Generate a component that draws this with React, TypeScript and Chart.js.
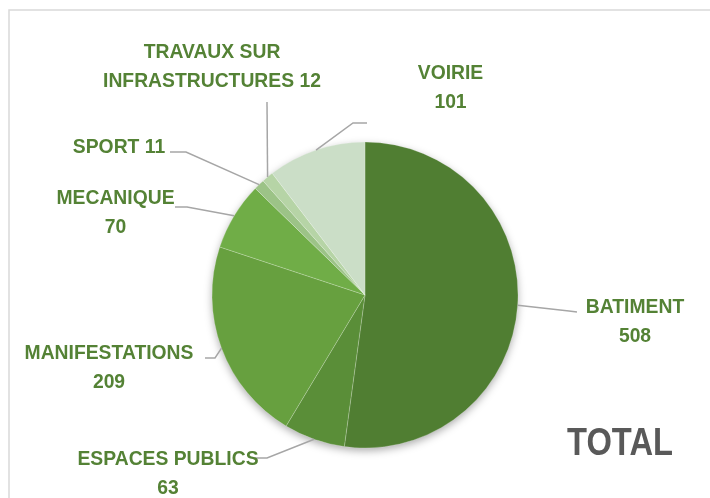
import React, { useEffect, useRef } from "react";
import { Chart, registerables } from "chart.js";

Chart.register(...registerables);

// ---- data ----
const categories: string[][] = [
  ["BATIMENT"],
  ["ESPACES PUBLICS"],
  ["MANIFESTATIONS"],
  ["MECANIQUE"],
  ["SPORT"],
  ["TRAVAUX SUR", "INFRASTRUCTURES"],
  ["VOIRIE"],
];
const values: number[] = [508, 63, 209, 70, 11, 12, 101];
const valueInline: boolean[] = [false, false, false, false, true, true, false];
const chartTitle = "TOTAL";

// ---- styles ----
const sliceColors = ["#507e32", "#5a8e38", "#67a03f", "#70ad47", "#9cc387", "#b6d4a6", "#cbdec7"];
const labelColor = "#548235";
const leaderColor = "#a6a6a6";
const titleColor = "#595959";
const labelFont = "bold 21px 'Liberation Sans', Arial, sans-serif";
const labelSize = 21;
const labelScaleX = 0.92;
const lineGap = 29;
const titleFont = "bold 38px 'Liberation Sans', Arial, sans-serif";
const titleSize = 38;
const titleScaleX = 0.86;

// label layout, offsets relative to the pie centre
const labelLayout = [
  { text: [270, 10], elbow: [204, 16], end: [212, 17] },
  { text: [-197, 162.5], elbow: [-98, 163], end: [-112, 163] },
  { text: [-256, 56], elbow: [-150, 63], end: [-160, 63] },
  { text: [-249.5, -99], elbow: [-178, -88], end: [-190, -88] },
  { text: [-246, -150], elbow: [-179, -143], end: [-195, -143] },
  { text: [-153, -245], elbow: [-98, -193], end: [-98, -193] },
  { text: [85.5, -224], elbow: [-12, -172], end: [2, -172] },
];
const titleOffset = [255, 146.5];

function drawScaled(ctx: CanvasRenderingContext2D, text: string, cx: number, baseY: number, sx: number) {
  ctx.save();
  ctx.translate(cx, baseY);
  ctx.scale(sx, 1);
  ctx.fillText(text, 0, 0);
  ctx.restore();
}

const pieDecor = {
  id: "pieDecor",
  beforeDraw(chart: any) {
    const ctx = chart.ctx;
    ctx.save();
    ctx.fillStyle = "#ffffff";
    ctx.fillRect(0, 0, chart.width, chart.height);
    ctx.strokeStyle = "#d9d9d9";
    ctx.lineWidth = 1.5;
    ctx.beginPath();
    ctx.moveTo(9, chart.height);
    ctx.lineTo(9, 10);
    ctx.lineTo(chart.width, 10);
    ctx.stroke();
    ctx.restore();
  },
  beforeDatasetsDraw(chart: any) {
    const meta = chart.getDatasetMeta(0);
    const arc = meta.data[0];
    if (!arc) return;
    const { x, y, outerRadius } = arc.getProps(["x", "y", "outerRadius"], true);
    const ctx = chart.ctx;
    ctx.save();
    ctx.shadowColor = "rgba(0,0,0,0.35)";
    ctx.shadowBlur = 9;
    ctx.shadowOffsetY = 3;
    ctx.fillStyle = "#ffffff";
    ctx.beginPath();
    ctx.arc(x, y, outerRadius - 0.5, 0, Math.PI * 2);
    ctx.fill();
    ctx.restore();
  },
  afterDatasetsDraw(chart: any) {
    const ctx = chart.ctx;
    const meta = chart.getDatasetMeta(0);
    ctx.save();
    meta.data.forEach((arc: any, i: number) => {
      const { x, y, startAngle, endAngle, outerRadius } = arc.getProps(
        ["x", "y", "startAngle", "endAngle", "outerRadius"],
        true
      );
      const mid = (startAngle + endAngle) / 2;
      const ex = x + Math.cos(mid) * outerRadius;
      const ey = y + Math.sin(mid) * outerRadius;
      const lay = labelLayout[i];
      ctx.strokeStyle = leaderColor;
      ctx.lineWidth = 1.5;
      ctx.beginPath();
      ctx.moveTo(ex, ey);
      ctx.lineTo(x + lay.elbow[0], y + lay.elbow[1]);
      ctx.lineTo(x + lay.end[0], y + lay.end[1]);
      ctx.stroke();

      const lines = categories[i].slice();
      const v = String(values[i]);
      if (valueInline[i]) lines[lines.length - 1] = lines[lines.length - 1] + " " + v;
      else lines.push(v);
      ctx.fillStyle = labelColor;
      ctx.font = labelFont;
      ctx.textAlign = "center";
      ctx.textBaseline = "alphabetic";
      lines.forEach((ln, k) => {
        drawScaled(ctx, ln, x + lay.text[0], y + lay.text[1] + k * lineGap + 0.358 * labelSize, labelScaleX);
      });
    });
    if (meta.data[0]) {
      const { x, y } = meta.data[0].getProps(["x", "y"], true);
      ctx.fillStyle = titleColor;
      ctx.font = titleFont;
      ctx.textAlign = "center";
      ctx.textBaseline = "alphabetic";
      drawScaled(ctx, chartTitle, x + titleOffset[0], y + titleOffset[1] + 0.358 * titleSize, titleScaleX);
    }
    ctx.restore();
  },
};

export default function App() {
  const ref = useRef<HTMLCanvasElement | null>(null);
  useEffect(() => {
    if (!ref.current) return;
    const chart = new Chart(ref.current, {
      type: "pie",
      data: {
        labels: categories.map((c) => c.join(" ")),
        datasets: [
          {
            data: values,
            backgroundColor: sliceColors,
            borderColor: "rgba(255,255,255,0.2)",
            borderWidth: 1,
          },
        ],
      },
      options: {
        responsive: false,
        animation: false,
        devicePixelRatio: 1,
        layout: { padding: { left: 211.5, right: 191.5, top: 141.5, bottom: 49.5 } },
        plugins: {
          legend: { display: false },
          tooltip: { enabled: false },
          title: { display: false },
        },
      },
      plugins: [pieDecor],
    });
    return () => chart.destroy();
  }, []);
  return (
    <div style={{ position: "absolute", left: 0, top: 0, width: 710, height: 498 }}>
      <canvas ref={ref} width={710} height={498} style={{ width: 710, height: 498 }} />
    </div>
  );
}
